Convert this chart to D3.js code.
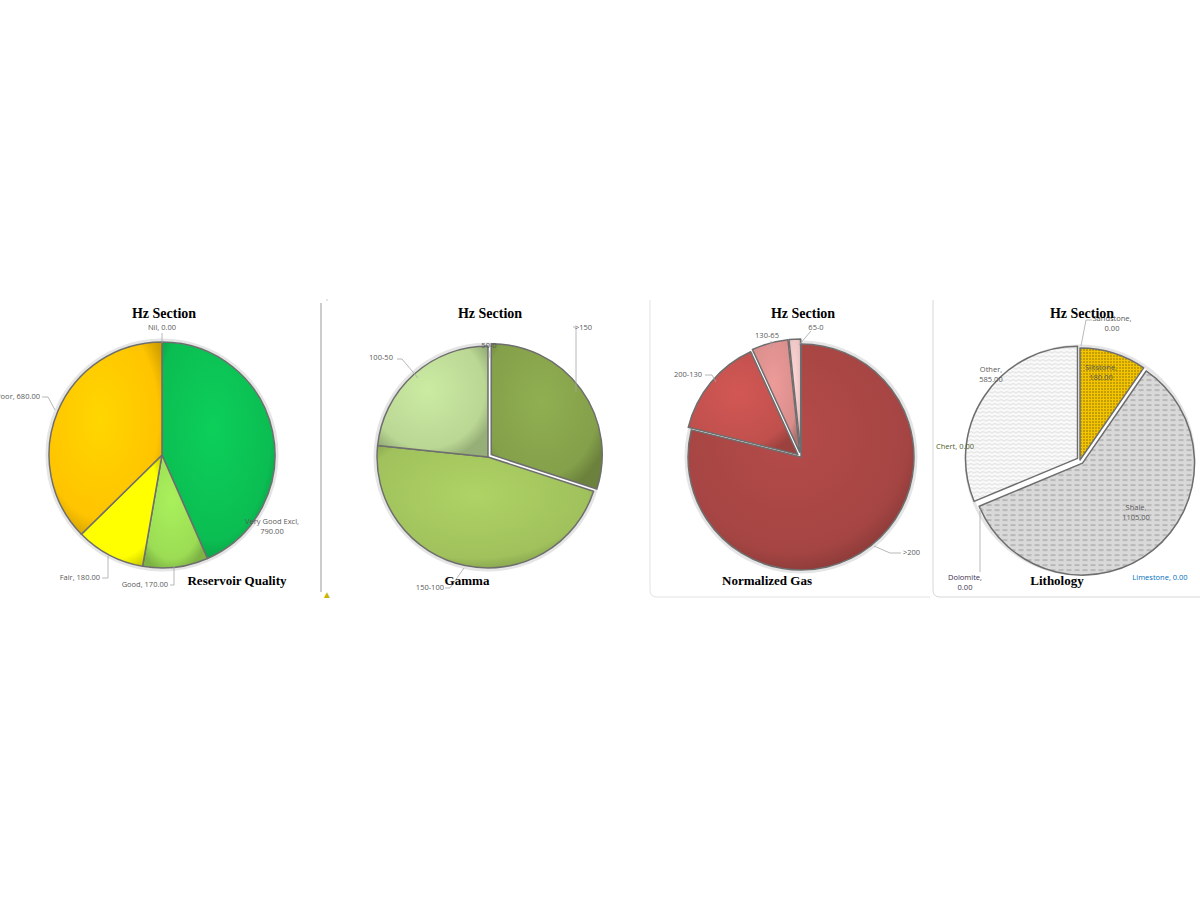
<!DOCTYPE html><html><head><meta charset="utf-8"><script src="https://cdn.jsdelivr.net/npm/d3@7"></script>
<style>body{margin:0;background:#fff}text{font-family:"Open Sans",sans-serif}</style></head><body>
<svg id="c" width="1200" height="900"></svg>
<script>
const rqCats=["Very Good Excl","Good","Fair","Poor","Nil"];
const rqVals=[790,170,180,680,0];
const gCats=[">150","150-100","100-50","50-0"];
const gVals=[540,840,420,0];
const ngCats=[">200","200-130","130-65","65-0"];
const ngVals=[1425,258,94,30];
const lCats=["Sandstone","Siltstone","Shale","Limestone","Dolomite","Chert","Other"];
const lVals=[0,180,1105,0,0,0,585];

const svg=d3.select("#c"),defs=svg.append("defs");
function grad(id,c){const g=defs.append("radialGradient").attr("id",id).attr("cx","45%").attr("cy","40%").attr("r","65%");
 g.append("stop").attr("offset","0%").attr("stop-color",d3.color(c).brighter(0.25));
 g.append("stop").attr("offset","80%").attr("stop-color",c);
 g.append("stop").attr("offset","100%").attr("stop-color",d3.color(c).darker(0.6));return `url(#${id})`;}
// patterns
let p=defs.append("pattern").attr("id","pdot").attr("width",3).attr("height",3).attr("patternUnits","userSpaceOnUse");
p.append("rect").attr("width",3).attr("height",3).attr("fill","#f5c400");p.append("circle").attr("cx",1).attr("cy",1).attr("r",0.7).attr("fill","#6b5a00");
p=defs.append("pattern").attr("id","pdash").attr("width",8).attr("height",5).attr("patternUnits","userSpaceOnUse");
p.append("rect").attr("width",8).attr("height",5).attr("fill","#d9d9d9");p.append("line").attr("x1",0).attr("x2",5).attr("y1",2).attr("y2",2).attr("stroke","#888").attr("stroke-width",0.8);
p=defs.append("pattern").attr("id","pwave").attr("width",6).attr("height",4).attr("patternUnits","userSpaceOnUse");
p.append("rect").attr("width",6).attr("height",4).attr("fill","#fbfbfb");p.append("path").attr("d","M0,2 Q1.5,0.5 3,2 T6,2").attr("fill","none").attr("stroke","#bbb").attr("stroke-width",0.6);

// frames
svg.append("line").attr("x1",321).attr("x2",321).attr("y1",303).attr("y2",592).attr("stroke","#ccc").attr("stroke-width",2);
svg.append("path").attr("d","M326,300 h2 M326,597 h1").attr("stroke","#ccc");
svg.append("path").attr("d","M650,300 V590 Q650,597 657,597 H930").attr("fill","none").attr("stroke","#e3e3e3");
svg.append("path").attr("d","M933,300 V590 Q933,597 940,597 H1200").attr("fill","none").attr("stroke","#d8d8d8");

function pie(cx,cy,r,cats,vals,fills,explode,labels,title2,t2x){
 const g=svg.append("g").attr("transform",`translate(${cx},${cy})`);
 const arcs=d3.pie().sort(null).value(d=>d)(vals);
 const arc=d3.arc().innerRadius(0).outerRadius(r);
 g.append("circle").attr("r",r+2).attr("fill","none").attr("stroke","#ccc").attr("stroke-width",3).attr("opacity",0.5);
 arcs.forEach((a,i)=>{ if(a.endAngle-a.startAngle<=0)return;
  const m=(a.startAngle+a.endAngle)/2,e=explode[i]||0;
  g.append("path").attr("d",arc(a)).attr("transform",`translate(${Math.sin(m)*e},${-Math.cos(m)*e})`)
   .attr("fill",fills[i]).attr("stroke","#6e6e6e").attr("stroke-width",1.5).attr("stroke-linejoin","round");});
 labels.forEach(l=>{
  if(l.line)svg.append("polyline").attr("points",l.line.map(q=>q.join(",")).join(" ")).attr("fill","none").attr("stroke","#a6a6a6").attr("stroke-width",0.8);
  const t=svg.append("text").attr("x",l.x).attr("y",l.y).attr("font-size",7.5).attr("fill",l.c||"#595959").attr("text-anchor",l.a||"middle");
  l.t.split("\n").forEach((s,k)=>t.append("tspan").attr("x",l.x).attr("dy",k?10:0).text(s));});
 svg.append("text").attr("x",cx+2).attr("y",318).attr("text-anchor","middle").attr("font-family","Liberation Serif,serif").attr("font-weight","bold").attr("font-size",14).attr("style","font-family:'Liberation Serif',serif").text("Hz Section");
 svg.append("text").attr("x",t2x).attr("y",585).attr("text-anchor","middle").attr("font-weight","bold").attr("font-size",13).attr("style","font-family:'Liberation Serif',serif").text(title2);
}
const f1=["#0bbd52","#9bdc54","#ffff00","#ffc400","#ffc400"].map((c,i)=>grad("g1"+i,c));
pie(162,455,113,rqCats,rqVals,f1,[],[
 {x:162,y:330,t:`${rqCats[4]}, ${rqVals[4].toFixed(2)}`,line:[[162,333],[162,343]]},
 {x:40,y:399,t:`${rqCats[3]}, ${rqVals[3].toFixed(2)}`,a:"end",line:[[42,397],[48,397],[55,410]]},
 {x:272,y:524,t:`Very Good Excl,\n${rqVals[0].toFixed(2)}`},
 {x:100,y:580,t:`${rqCats[2]}, ${rqVals[2].toFixed(2)}`,a:"end",line:[[102,578],[108,578],[108,556]]},
 {x:168,y:587,t:`${rqCats[1]}, ${rqVals[1].toFixed(2)}`,a:"end",line:[[170,585],[174,585],[174,566]]}
],"Reservoir Quality",237);
svg.append("text").attr("x",322).attr("y",598).attr("font-size",10).attr("fill","#c9b400").text("▲");
const f2=["#84a04a","#a0c15c","#bad794","#bad794"].map((c,i)=>grad("g2"+i,c));
pie(488,457,111,gCats,gVals,f2,[4,0,0,0],[
 {x:575,y:330,t:gCats[0],a:"start",line:[[573,327],[576,327],[576,392]]},
 {x:489,y:348,t:gCats[3],line:[[489,351],[489,358]]},
 {x:381,y:360,t:gCats[2],a:"middle",line:[[397,359],[402,359],[418,378]]},
 {x:444,y:590,t:gCats[1],a:"end",line:[[445,588],[450,588],[464,568]]}
],"Gamma",467);
const f3=["#a54543","#c0504d","#d98e8c","#e9c4c3"].map((c,i)=>grad("g3"+i,c));
pie(801,457,113,ngCats,ngVals,f3,[0,4,5,5],[
 {x:903,y:555,t:ngCats[0],a:"start",line:[[874,546],[890,553],[901,553]]},
 {x:688,y:377,t:ngCats[1],line:[[705,375],[712,375],[716,382]]},
 {x:767,y:338,t:ngCats[2],line:[[771,341],[771,348]]},
 {x:816,y:330,t:ngCats[3],line:[[811,331],[799,345]]}
],"Normalized Gas",767);
const f4=["#f5c400","url(#pdot)","url(#pdash)","#ddd","#ddd","#ddd","url(#pwave)"];
pie(1080,460,112,lCats,lVals,f4,[0,0,4,0,0,0,3],[
 {x:1112,y:321,t:"Sandstone,\n0.00",line:[[1092,320],[1086,320],[1081,346]]},
 {x:1101,y:370,t:"Siltstone,\n180.00"},
 {x:991,y:372,t:"Other,\n585.00"},
 {x:955,y:449,t:"Chert, 0.00",c:"#4f6228"},
 {x:1136,y:510,t:"Shale,\n1105.00"},
 {x:965,y:580,t:"Dolomite,\n0.00",c:"#403151",line:[[980,572],[980,511],[982,508]]},
 {x:1160,y:580,t:"Limestone, 0.00",c:"#0070c0"}
],"Lithology",1057);
</script></body></html>
